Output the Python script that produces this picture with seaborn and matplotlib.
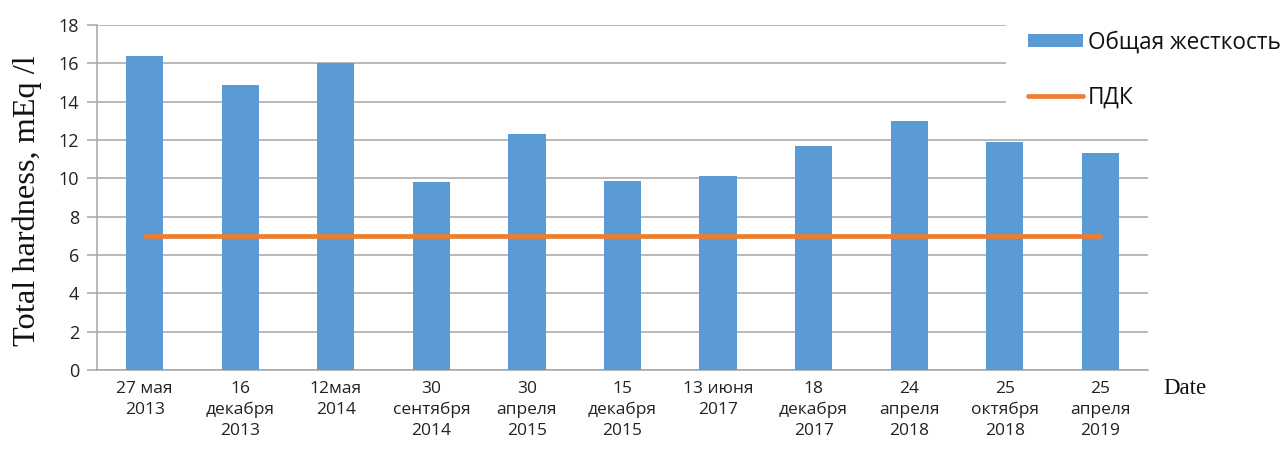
import matplotlib
matplotlib.use("Agg")
import matplotlib.pyplot as plt
import seaborn as sns
import pandas as pd

dates = ["27 мая\n2013", "16\nдекабря\n2013", "12мая\n2014", "30\nсентября\n2014",
         "30\nапреля\n2015", "15\nдекабря\n2015", "13 июня\n2017", "18\nдекабря\n2017",
         "24\nапреля\n2018", "25\nоктября\n2018", "25\nапреля\n2019"]
hardness = [16.4, 14.85, 16.0, 9.8, 12.3, 9.85, 10.1, 11.7, 13.0, 11.9, 11.3]
pdk = [7, 7, 7, 7, 7, 7, 7, 7, 7, 7, 7]
y_ticks = [0, 2, 4, 6, 8, 10, 12, 14, 16, 18]

df = pd.DataFrame({"date": dates, "hardness": hardness, "pdk": pdk})

sns.set_theme(style="white")
plt.rcParams["font.family"] = ["Open Sans", "DejaVu Sans"]

fig = plt.figure(figsize=(12.86, 4.71), dpi=100)
ax = fig.add_axes([0.0754, 0.2144, 0.8173, 0.7325])

bar_color = "#5b9bd5"
line_color = "#ed7d31"
grid_color = "#a6a6a6"

sns.barplot(data=df, x="date", y="hardness", color=bar_color, width=0.39,
            saturation=1, linewidth=0, ax=ax, label="Общая жесткость", zorder=3)
sns.lineplot(data=df, x="date", y="pdk", color=line_color, linewidth=3.4,
             sort=False, ax=ax, label="ПДК", zorder=4)

ax.set_ylim(0, 18)
ax.set_xlim(-0.5, len(dates) - 0.5)
ax.set_yticks(y_ticks)
ax.set_yticklabels([str(t) for t in y_ticks], fontsize=13, color="#222222")
ax.tick_params(axis="x", labelsize=12.5, labelcolor="#222222", length=0, pad=8)
ax.tick_params(axis="y", direction="out", length=7, width=1.1, color=grid_color,
               pad=6, left=True)
for lbl in ax.get_xticklabels():
    lbl.set_verticalalignment("top")
    lbl.set_linespacing(1.4)

ax.yaxis.grid(True, color=grid_color, linewidth=1.1, zorder=0)
ax.set_axisbelow(True)
for side in ["top", "right"]:
    ax.spines[side].set_visible(False)
for side in ["bottom", "left"]:
    ax.spines[side].set_color(grid_color)
    ax.spines[side].set_linewidth(1.1)

ax.set_xlabel("")
ax.set_ylabel("Total hardness, mEq /l", fontsize=23.3, family="Liberation Serif",
              color="#111111")
ax.yaxis.set_label_coords(-0.052, 0.49)
fig.text(1163 / 1286, 1 - 388 / 471, "Date", fontsize=16.5, family="Liberation Serif",
         color="#111111", ha="left", va="center")

handles, labels = ax.get_legend_handles_labels()
order = [labels.index("Общая жесткость"), labels.index("ПДК")]
leg = ax.legend([handles[i] for i in order], [labels[i] for i in order],
                loc="upper left", bbox_to_anchor=(1014 / 1286, 1 - 17 / 471),
                bbox_transform=fig.transFigure, frameon=True, facecolor="white",
                edgecolor="white", framealpha=1, fontsize=16.3,
                handlelength=2.45, handleheight=0.55, labelspacing=1.35,
                handletextpad=0.2, borderpad=0.6, borderaxespad=0)
for t in leg.get_texts():
    t.set_color("#111111")

# white legend frame hides the gridlines behind it but stays under the bars
leg.get_frame().set_boxstyle("square", pad=0.35)
leg.set_zorder(2.5)

fig.savefig("out.png", dpi=100)
